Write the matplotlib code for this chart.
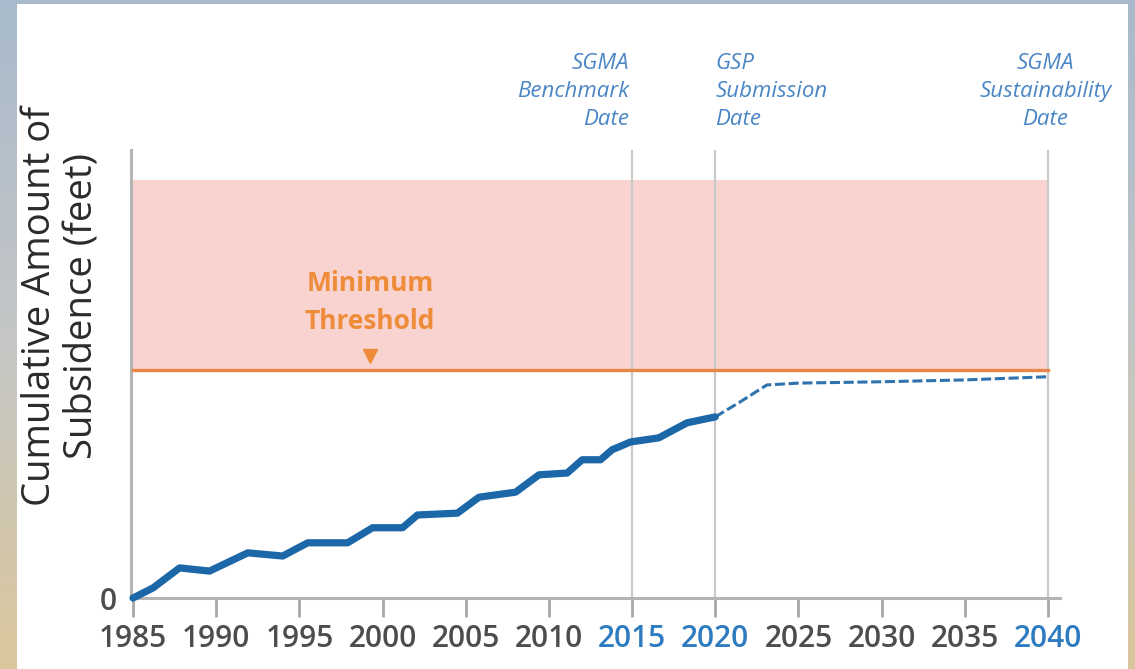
import numpy as np
import matplotlib
matplotlib.use("Agg")
import matplotlib.pyplot as plt
from matplotlib.patches import Rectangle

plt.rcParams['font.family'] = ['Open Sans', 'DejaVu Sans']

# observed cumulative subsidence (arbitrary feet units, threshold = 5)
years_obs = [1985, 1986.2, 1987.8, 1989.6, 1991.9, 1994.0, 1995.5, 1997.9, 1999.4,
             2001.2, 2002.1, 2004.5, 2005.8, 2008.0, 2009.4, 2011.1, 2012.0, 2013.1,
             2013.8, 2014.9, 2016.6, 2018.3, 2020.0]
subs_obs = [0, 0.22, 0.66, 0.59, 0.99, 0.92, 1.21, 1.21, 1.54,
            1.54, 1.82, 1.86, 2.21, 2.32, 2.70, 2.74, 3.03, 3.03,
            3.25, 3.42, 3.51, 3.84, 3.97]

# projected subsidence after GSP
years_proj = [2020, 2021.5, 2023.1, 2025, 2030, 2035, 2040]
subs_proj = [3.97, 4.30, 4.67, 4.71, 4.74, 4.78, 4.85]

min_threshold = 5.0
zone_top = 9.17
zone_years = [1985, 2040]

tick_years = list(range(1985, 2041, 5))
key_years = [2015, 2020, 2040]
key_labels = ["SGMA\nBenchmark\nDate", "GSP\nSubmission\nDate", "SGMA\nSustainability\nDate"]

fig = plt.figure(figsize=(11.35, 6.69), dpi=100)

# photo-like backdrop with white panel
bg = fig.add_axes([0, 0, 1, 1])
top = np.array([168, 186, 204]) / 255
mid = np.array([196, 198, 198]) / 255
bot = np.array([218, 198, 156]) / 255
t = np.linspace(0, 1, 200)[:, None]
grad = np.where(t < 0.5, top + (mid - top) * (t / 0.5), mid + (bot - mid) * ((t - 0.5) / 0.5))
bg.imshow(grad[:, None, :], aspect='auto', extent=[0, 1, 0, 1], origin='upper')
bg.add_patch(Rectangle((17 / 1135, 0), (1128 - 17) / 1135, (669 - 4) / 669,
                       facecolor='white', edgecolor='none'))
bg.set_xlim(0, 1)
bg.set_ylim(0, 1)
bg.axis('off')

ax = fig.add_axes([131 / 1135, 71 / 669, 929 / 1135, 448 / 669])
ax.patch.set_alpha(0)
ax.set_xlim(1984.88, 2040.72)
ax.set_ylim(0, 9.82)

ax.fill_between(zone_years, min_threshold, zone_top, color='#f9d3cf', lw=0, zorder=1)
for yr in key_years:
    ax.axvline(yr, color='#c9c9c9', lw=1.6, zorder=2)
ax.plot(zone_years, [min_threshold, min_threshold], color='#e8864a', lw=2.4, zorder=3)

ax.plot(years_proj, subs_proj, color='#2f72ad', lw=2.2, dashes=(3.3, 1.2), zorder=4)
ax.plot(years_obs, subs_obs, color='#1b67a8', lw=5.2, solid_joinstyle='round',
        solid_capstyle='round', zorder=5, clip_on=False)

ax.text(1999.25, 6.48, "Minimum\nThreshold", color='#ee8c3a', fontsize=19,
        fontweight='bold', ha='center', va='center', linespacing=1.55)
ax.plot([1999.25], [5.31], marker='v', color='#ee8c3a', markersize=10, zorder=6)

# milestone labels above the plot
blue_txt = '#4a86c5'
lab_y = 10.25
ax.text(2014.8, lab_y, key_labels[0], color=blue_txt, fontsize=16, style='italic',
        ha='right', va='bottom', linespacing=1.45, clip_on=False)
ax.text(2020.0, lab_y, key_labels[1], color=blue_txt, fontsize=16, style='italic',
        ha='left', va='bottom', linespacing=1.45, clip_on=False)
ax.text(2039.85, lab_y, key_labels[2], color=blue_txt, fontsize=16, style='italic',
        ha='center', va='bottom', linespacing=1.45, multialignment='center', clip_on=False)

for side in ['top', 'right']:
    ax.spines[side].set_visible(False)
ax.spines['left'].set_color('#b5b5b5')
ax.spines['left'].set_linewidth(2.2)
ax.spines['bottom'].set_color('#b5b5b5')
ax.spines['bottom'].set_linewidth(2.2)

ax.set_xticks(tick_years)
ax.set_xticklabels([str(y) for y in tick_years])
ax.tick_params(axis='x', direction='out', length=14, width=2, color='#a8a8a8',
               pad=5, labelsize=21.5, labelcolor='#4d4d4d')
for lbl, yr in zip(ax.get_xticklabels(), tick_years):
    lbl.set_fontweight('semibold')
    if yr in key_years:
        lbl.set_color('#2e7cbf')

ax.set_yticks([0])
ax.set_yticklabels(['0'])
ax.tick_params(axis='y', length=0, pad=10, labelsize=21.5, labelcolor='#4d4d4d')
for lbl in ax.get_yticklabels():
    lbl.set_fontweight('semibold')

fig.text(61 / 1135, (669 - 306) / 669, "Cumulative Amount of\nSubsidence (feet)",
         rotation=90, ha='center', va='center', multialignment='center',
         fontsize=27.5, color='#2b2b2b', linespacing=1.15)

fig.savefig('out.png', dpi=100)
